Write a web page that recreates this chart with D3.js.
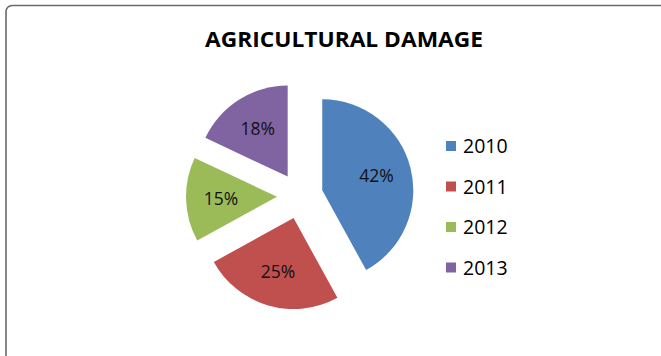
<!DOCTYPE html>
<html>
<head>
<meta charset="utf-8">
<script src="https://cdn.jsdelivr.net/npm/d3@7"></script>
<style>
  html, body { margin: 0; padding: 0; background: #fff; }
  svg { display: block; }
</style>
</head>
<body>
<svg id="chart" width="661" height="356"></svg>
<script>
// Share of agricultural damage by year
const years = ["2010", "2011", "2012", "2013"];
const shares = [42, 25, 15, 18];
const colors = ["#4F81BD", "#C0504D", "#9BBB59", "#8064A2"];
const title = "AGRICULTURAL DAMAGE";

const svg = d3.select("#chart");
const W = 661, H = 356;

// chart frame
svg.append("rect")
  .attr("x", 6).attr("y", 5.5)
  .attr("width", W + 20).attr("height", H + 20)
  .attr("rx", 6).attr("ry", 6)
  .attr("fill", "#fff")
  .attr("stroke", "#6b6b6b")
  .attr("stroke-width", 1.6);

// title
svg.append("text")
  .attr("x", 344).attr("y", 47)
  .attr("text-anchor", "middle")
  .attr("font-family", "'Open Sans', 'Noto Sans', sans-serif")
  .attr("font-weight", "bold")
  .attr("font-size", 20.5)
  .attr("textLength", 278)
  .attr("lengthAdjust", "spacingAndGlyphs")
  .attr("fill", "#000")
  .text(title);

// exploded pie
const cx = 300, cy = 196, R = 91, explode = 23, labelR = 56;
const pie = d3.pie().sort(null).value(d => d)(shares);
const arc = d3.arc().innerRadius(0).outerRadius(R);

const g = svg.append("g").attr("transform", `translate(${cx},${cy})`);

const slices = g.selectAll("g.slice")
  .data(pie)
  .join("g")
  .attr("class", "slice")
  .attr("transform", d => {
    const a = (d.startAngle + d.endAngle) / 2;
    return `translate(${explode * Math.sin(a)},${-explode * Math.cos(a)})`;
  });

slices.append("path")
  .attr("d", arc)
  .attr("fill", (d, i) => colors[i]);

slices.append("text")
  .attr("x", d => labelR * Math.sin((d.startAngle + d.endAngle) / 2))
  .attr("y", d => -labelR * Math.cos((d.startAngle + d.endAngle) / 2))
  .attr("dy", "0.35em")
  .attr("text-anchor", "middle")
  .attr("font-family", "'Open Sans', 'Noto Sans', sans-serif")
  .attr("font-size", 17.5)
  .attr("fill", "#111")
  .text(d => d.data + "%");

// legend
const legend = svg.append("g").attr("transform", "translate(446,146)");
const rows = legend.selectAll("g")
  .data(years)
  .join("g")
  .attr("transform", (d, i) => `translate(0,${i * 40.5})`);

rows.append("rect")
  .attr("x", 0).attr("y", -5)
  .attr("width", 10).attr("height", 10)
  .attr("fill", (d, i) => colors[i]);

rows.append("text")
  .attr("x", 17).attr("y", 0)
  .attr("dy", "0.36em")
  .attr("font-family", "'Open Sans', 'Noto Sans', sans-serif")
  .attr("font-size", 19.5)
  .attr("fill", "#000")
  .text(d => d);
</script>
</body>
</html>
